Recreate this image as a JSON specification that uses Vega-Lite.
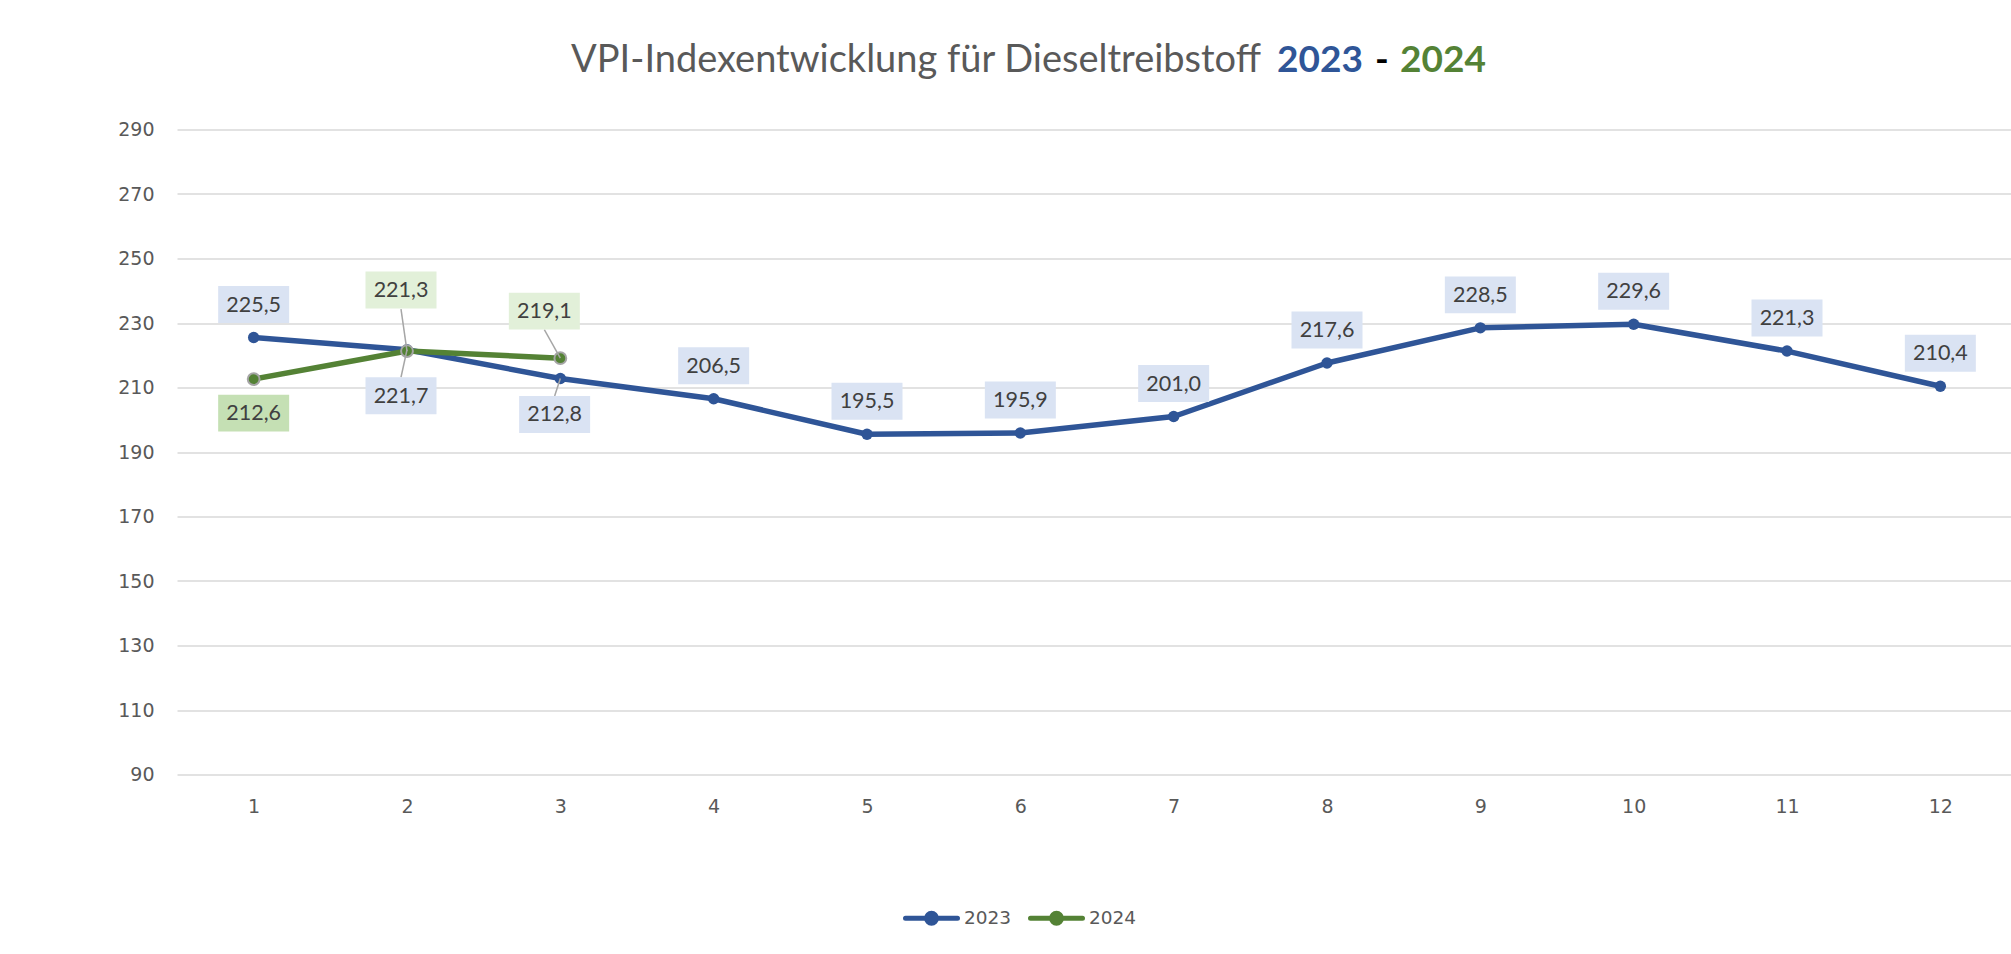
{
  "$schema": "https://vega.github.io/schema/vega-lite/v6.json",
  "autosize": {"type": "none"},
  "width": 1840,
  "height": 645,
  "padding": {"left": 177, "top": 129.5, "right": 0, "bottom": 179.5},
  "background": "white",
  "config": {
    "view": {"stroke": null},
    "locale": {"number": {"decimal": ",", "thousands": ".", "grouping": [3], "currency": ["", " €"]}}
  },
  "data": {"values": [
    {"Monat": 1, "Jahr": "2023", "Wert": 225.5},
    {"Monat": 2, "Jahr": "2023", "Wert": 221.7},
    {"Monat": 3, "Jahr": "2023", "Wert": 212.8},
    {"Monat": 4, "Jahr": "2023", "Wert": 206.5},
    {"Monat": 5, "Jahr": "2023", "Wert": 195.5},
    {"Monat": 6, "Jahr": "2023", "Wert": 195.9},
    {"Monat": 7, "Jahr": "2023", "Wert": 201.0},
    {"Monat": 8, "Jahr": "2023", "Wert": 217.6},
    {"Monat": 9, "Jahr": "2023", "Wert": 228.5},
    {"Monat": 10, "Jahr": "2023", "Wert": 229.6},
    {"Monat": 11, "Jahr": "2023", "Wert": 221.3},
    {"Monat": 12, "Jahr": "2023", "Wert": 210.4},
    {"Monat": 1, "Jahr": "2024", "Wert": 212.6},
    {"Monat": 2, "Jahr": "2024", "Wert": 221.3},
    {"Monat": 3, "Jahr": "2024", "Wert": 219.1}
  ]},
  "encoding": {
    "x": {
      "field": "Monat", "type": "ordinal",
      "scale": {"type": "point", "padding": 0.5},
      "axis": {"title": null, "labelAngle": 0, "domain": false, "ticks": false, "grid": false,
               "labelFont": "DejaVu Sans", "labelFontSize": 19, "labelColor": "#595959", "labelPadding": 23}
    },
    "y": {
      "field": "Wert", "type": "quantitative",
      "scale": {"domain": [90, 290], "nice": false, "zero": false},
      "axis": {"title": null, "values": [90, 110, 130, 150, 170, 190, 210, 230, 250, 270, 290],
               "domain": false, "ticks": false, "grid": true, "gridColor": "#D9D9D9", "gridWidth": 1.5,
               "labelFont": "DejaVu Sans", "labelFontSize": 19, "labelColor": "#595959", "labelPadding": 23}
    }
  },
  "layer": [
    {
      "mark": {"type": "line", "strokeWidth": 5.5, "strokeCap": "round", "strokeJoin": "round"},
      "encoding": {
        "color": {
          "field": "Jahr", "type": "nominal",
          "scale": {"domain": ["2023", "2024"], "range": ["#2F5597", "#548235"]},
          "legend": {
            "title": null, "orient": "none", "legendX": 726, "legendY": 760, "direction": "horizontal",
            "symbolType": "M-1,0H1M-0.19,0A0.19,0.19,0,1,0,0.19,0A0.19,0.19,0,1,0,-0.19,0",
            "symbolSize": 2704, "symbolStrokeWidth": 5, "symbolOpacity": 1,
            "labelFont": "DejaVu Sans", "labelFontSize": 18.5, "labelColor": "#595959",
            "labelOffset": 4, "columnPadding": 8, "padding": 0,
            "encode": {"symbols": {"update": {
              "fill": {"scale": "color", "field": "value"},
              "stroke": {"scale": "color", "field": "value"},
              "strokeCap": {"value": "round"}
            }}}
          }
        }
      }
    },
    {
      "transform": [{"filter": "datum.Jahr == '2023'"}],
      "mark": {"type": "point", "filled": true, "size": 130, "color": "#2F5597", "opacity": 1}
    },
    {
      "transform": [{"filter": "datum.Jahr == '2024'"}],
      "mark": {"type": "point", "filled": true, "size": 140, "fill": "#548235", "stroke": "#A5A5A5", "strokeWidth": 2, "opacity": 1}
    },
    {
      "transform": [{"filter": "datum.Jahr == '2024' && datum.Monat == 2"}],
      "mark": {"type": "rule", "color": "#A6A6A6", "strokeWidth": 1.5, "x2Offset": -6, "y2Offset": -42},
      "encoding": {"x2": {"field": "Monat"}, "y2": {"field": "Wert"}}
    },
    {
      "transform": [{"filter": "datum.Jahr == '2023' && datum.Monat == 2"}],
      "mark": {"type": "rule", "color": "#A6A6A6", "strokeWidth": 1.5, "x2Offset": -6, "y2Offset": 27.5},
      "encoding": {"x2": {"field": "Monat"}, "y2": {"field": "Wert"}}
    },
    {
      "transform": [{"filter": "datum.Jahr == '2024' && datum.Monat == 3"}],
      "mark": {"type": "rule", "color": "#A6A6A6", "strokeWidth": 1.5, "x2Offset": -16, "y2Offset": -28.5},
      "encoding": {"x2": {"field": "Monat"}, "y2": {"field": "Wert"}}
    },
    {
      "transform": [{"filter": "datum.Jahr == '2023' && datum.Monat == 3"}],
      "mark": {"type": "rule", "color": "#A6A6A6", "strokeWidth": 1.5, "x2Offset": -5.7, "y2Offset": 17.5},
      "encoding": {"x2": {"field": "Monat"}, "y2": {"field": "Wert"}}
    },
    {
      "transform": [{"filter": "datum.Jahr == '2023' && datum.Monat != 2 && datum.Monat != 3"}],
      "mark": {"type": "point", "shape": "M-1,-0.52H1V0.52H-1Z", "size": 5041, "filled": true, "color": "#DAE3F3", "opacity": 1, "yOffset": -33}
    },
    {
      "transform": [{"filter": "datum.Jahr == '2023' && datum.Monat != 2 && datum.Monat != 3"}],
      "mark": {"type": "text", "font": "Lato", "fontSize": 21.5, "color": "#404040", "baseline": "middle", "yOffset": -32},
      "encoding": {"text": {"field": "Wert", "type": "quantitative", "format": ".1f"}}
    },
    {
      "transform": [{"filter": "datum.Jahr == '2023' && datum.Monat == 2"}],
      "mark": {"type": "point", "shape": "M-1,-0.52H1V0.52H-1Z", "size": 5041, "filled": true, "color": "#DAE3F3", "opacity": 1, "xOffset": -6, "yOffset": 46}
    },
    {
      "transform": [{"filter": "datum.Jahr == '2023' && datum.Monat == 2"}],
      "mark": {"type": "text", "font": "Lato", "fontSize": 21.5, "color": "#404040", "baseline": "middle", "xOffset": -6, "yOffset": 47},
      "encoding": {"text": {"field": "Wert", "type": "quantitative", "format": ".1f"}}
    },
    {
      "transform": [{"filter": "datum.Jahr == '2023' && datum.Monat == 3"}],
      "mark": {"type": "point", "shape": "M-1,-0.52H1V0.52H-1Z", "size": 5041, "filled": true, "color": "#DAE3F3", "opacity": 1, "xOffset": -5.7, "yOffset": 36}
    },
    {
      "transform": [{"filter": "datum.Jahr == '2023' && datum.Monat == 3"}],
      "mark": {"type": "text", "font": "Lato", "fontSize": 21.5, "color": "#404040", "baseline": "middle", "xOffset": -5.7, "yOffset": 37},
      "encoding": {"text": {"field": "Wert", "type": "quantitative", "format": ".1f"}}
    },
    {
      "transform": [{"filter": "datum.Jahr == '2024' && datum.Monat == 1"}],
      "mark": {"type": "point", "shape": "M-1,-0.52H1V0.52H-1Z", "size": 5041, "filled": true, "color": "#C5E0B4", "opacity": 1, "yOffset": 34}
    },
    {
      "transform": [{"filter": "datum.Jahr == '2024' && datum.Monat == 1"}],
      "mark": {"type": "text", "font": "Lato", "fontSize": 21.5, "color": "#404040", "baseline": "middle", "yOffset": 35},
      "encoding": {"text": {"field": "Wert", "type": "quantitative", "format": ".1f"}}
    },
    {
      "transform": [{"filter": "datum.Jahr == '2024' && datum.Monat == 2"}],
      "mark": {"type": "point", "shape": "M-1,-0.52H1V0.52H-1Z", "size": 5041, "filled": true, "color": "#E2F0D9", "opacity": 1, "xOffset": -6, "yOffset": -61}
    },
    {
      "transform": [{"filter": "datum.Jahr == '2024' && datum.Monat == 2"}],
      "mark": {"type": "text", "font": "Lato", "fontSize": 21.5, "color": "#404040", "baseline": "middle", "xOffset": -6, "yOffset": -60},
      "encoding": {"text": {"field": "Wert", "type": "quantitative", "format": ".1f"}}
    },
    {
      "transform": [{"filter": "datum.Jahr == '2024' && datum.Monat == 3"}],
      "mark": {"type": "point", "shape": "M-1,-0.52H1V0.52H-1Z", "size": 5041, "filled": true, "color": "#E2F0D9", "opacity": 1, "xOffset": -16, "yOffset": -47}
    },
    {
      "transform": [{"filter": "datum.Jahr == '2024' && datum.Monat == 3"}],
      "mark": {"type": "text", "font": "Lato", "fontSize": 21.5, "color": "#404040", "baseline": "middle", "xOffset": -16, "yOffset": -46},
      "encoding": {"text": {"field": "Wert", "type": "quantitative", "format": ".1f"}}
    },
    {
      "data": {"values": [{"t": "VPI-Indexentwicklung für Dieseltreibstoff"}]},
      "mark": {"type": "text", "font": "Lato", "fontSize": 38, "color": "#595959", "align": "right", "baseline": "alphabetic"},
      "encoding": {"x": {"value": 1084}, "y": {"value": -57.5}, "text": {"field": "t"}}
    },
    {
      "data": {"values": [{"t": "2023"}]},
      "mark": {"type": "text", "font": "Lato", "fontSize": 37, "fontWeight": "bold", "color": "#2F5597", "align": "left", "baseline": "alphabetic"},
      "encoding": {"x": {"value": 1100}, "y": {"value": -57.5}, "text": {"field": "t"}}
    },
    {
      "data": {"values": [{"t": "-"}]},
      "mark": {"type": "text", "font": "Lato", "fontSize": 37, "fontWeight": "bold", "color": "#000000", "align": "left", "baseline": "alphabetic"},
      "encoding": {"x": {"value": 1198}, "y": {"value": -57.5}, "text": {"field": "t"}}
    },
    {
      "data": {"values": [{"t": "2024"}]},
      "mark": {"type": "text", "font": "Lato", "fontSize": 37, "fontWeight": "bold", "color": "#548235", "align": "left", "baseline": "alphabetic"},
      "encoding": {"x": {"value": 1223}, "y": {"value": -57.5}, "text": {"field": "t"}}
    }
  ]
}
